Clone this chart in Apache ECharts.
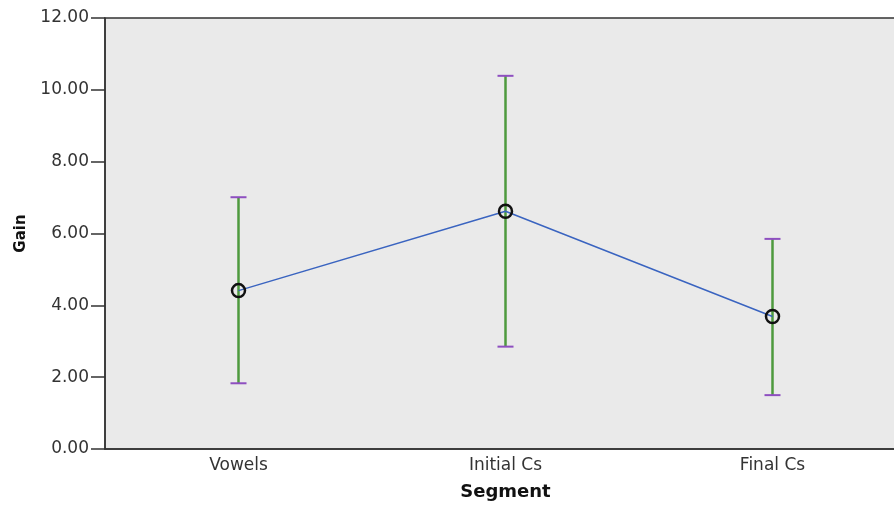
<!DOCTYPE html>
<html><head><meta charset="utf-8">
<script src="https://cdn.jsdelivr.net/npm/echarts@6/dist/echarts.min.js"></script>
<style>html,body{margin:0;padding:0;background:#fff;overflow:hidden}#c{width:906px;height:506px}</style>
</head><body><div id="c"></div>
<script>
const categories = ["Vowels", "Initial Cs", "Final Cs"];
const means = [4.41, 6.62, 3.69];
const upper = [7.01, 10.39, 5.85];
const lower = [1.83, 2.85, 1.50];

const chart = echarts.init(document.getElementById('c'));
const font = 'DejaVu Sans';
chart.setOption({
  animation: false,
  grid: { left: 105, top: 18, right: 0, bottom: 51, show: true, backgroundColor: '#EAEAEA', borderColor: '#333', borderWidth: 1.5 },
  xAxis: {
    type: 'category', data: categories, boundaryGap: true,
    name: 'Segment', nameLocation: 'middle', nameGap: 34,
    nameTextStyle: { fontFamily: font, fontWeight: 'bold', fontSize: 18, color: '#111' },
    axisLine: { lineStyle: { color: '#333', width: 1.5 } },
    axisTick: { alignWithLabel: true, length: 8, lineStyle: { color: '#333', width: 1.5 } },
    axisLabel: { fontFamily: font, fontSize: 17, color: '#333', margin: 8 },
    splitLine: { show: false }
  },
  yAxis: {
    type: 'value', min: 0, max: 12, interval: 2,
    name: 'Gain', nameLocation: 'middle', nameGap: 76, nameRotate: 90,
    nameTextStyle: { fontFamily: font, fontWeight: 'bold', fontSize: 15, color: '#111' },
    axisLine: { show: true, lineStyle: { color: '#333', width: 1.5 } },
    axisTick: { show: true, length: 14, lineStyle: { color: '#333', width: 1.5 } },
    axisLabel: { fontFamily: font, fontSize: 17, color: '#333', margin: 16, formatter: v => v.toFixed(2) },
    splitLine: { show: false }
  },
  series: [
    {
      type: 'custom',
      data: categories.map((c, i) => [i, lower[i], upper[i]]),
      renderItem: function (params, api) {
        const x = api.value(0);
        const lo = api.coord([x, api.value(1)]);
        const hi = api.coord([x, api.value(2)]);
        const hw = 8;
        return {
          type: 'group',
          children: [
            { type: 'line', shape: { x1: lo[0], y1: lo[1], x2: hi[0], y2: hi[1] }, style: { stroke: '#4e9a3e', lineWidth: 2.5 } },
            { type: 'line', shape: { x1: hi[0] - hw, y1: hi[1], x2: hi[0] + hw, y2: hi[1] }, style: { stroke: '#8e4fc0', lineWidth: 2 } },
            { type: 'line', shape: { x1: lo[0] - hw, y1: lo[1], x2: lo[0] + hw, y2: lo[1] }, style: { stroke: '#8e4fc0', lineWidth: 2 } }
          ]
        };
      },
      z: 2
    },
    {
      type: 'line',
      data: means,
      lineStyle: { color: '#3a64c0', width: 1.5 },
      symbol: 'circle', symbolSize: 13,
      itemStyle: { color: 'rgba(0,0,0,0)', borderColor: '#111', borderWidth: 2.5 },
      z: 3
    }
  ]
});
</script></body></html>
